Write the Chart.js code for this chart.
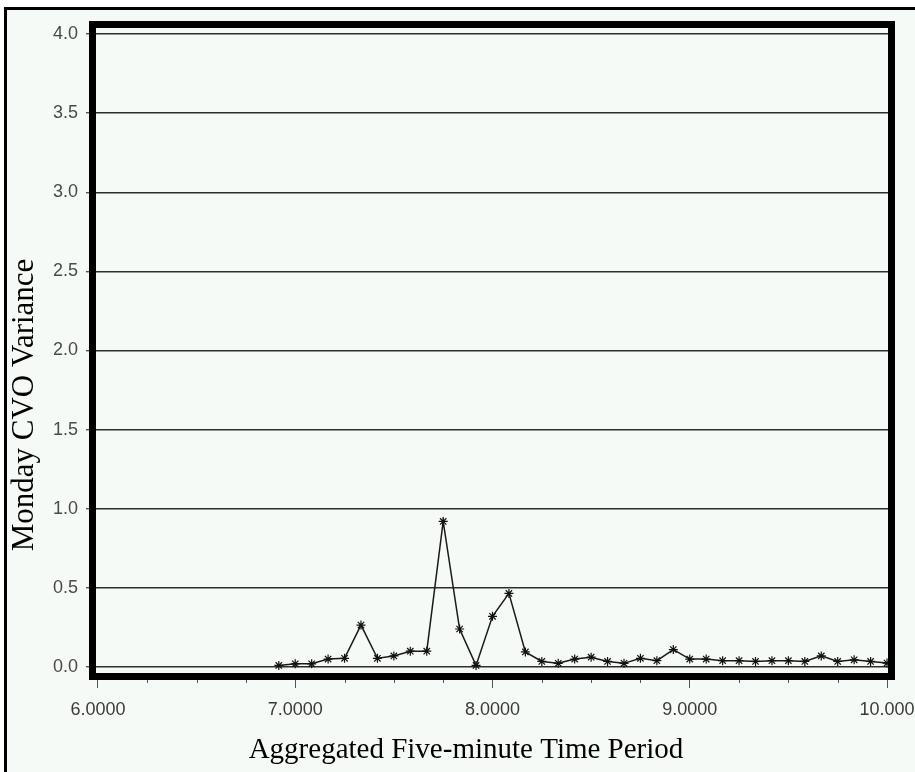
<!DOCTYPE html>
<html>
<head>
<meta charset="utf-8">
<script src="https://cdn.jsdelivr.net/npm/chart.js@4.4.0/dist/chart.umd.min.js"></script>
<style>
    html, body { margin: 0; padding: 0; background: #fff; }
    #wrap { width: 915px; height: 772px; position: relative; }
</style>
</head>
<body>
<div id="wrap"><canvas id="cvoChart"></canvas></div>
<script>
// time of day (hours), five-minute bins
const timePeriods = [
    6.9167, 7.0000, 7.0833, 7.1667, 7.2500, 7.3333, 7.4167, 7.5000, 7.5833, 7.6667,
    7.7500, 7.8333, 7.9167, 8.0000, 8.0833, 8.1667, 8.2500, 8.3333, 8.4167, 8.5000,
    8.5833, 8.6667, 8.7500, 8.8333, 8.9167, 9.0000, 9.0833, 9.1667, 9.2500, 9.3333,
    9.4167, 9.5000, 9.5833, 9.6667, 9.7500, 9.8333, 9.9167, 10.0000
];
const cvoVariance = [
    0.010, 0.020, 0.020, 0.050, 0.055, 0.265, 0.055, 0.070, 0.100, 0.100,
    0.920, 0.240, 0.010, 0.320, 0.465, 0.095, 0.035, 0.023, 0.050, 0.062,
    0.035, 0.023, 0.055, 0.040, 0.110, 0.050, 0.050, 0.040, 0.040, 0.035,
    0.040, 0.040, 0.035, 0.070, 0.035, 0.045, 0.035, 0.025
];

const yTicks = [0, 0.5, 1, 1.5, 2, 2.5, 3, 3.5, 4];
const yTickLabels = ["0.0", "0.5", "1.0", "1.5", "2.0", "2.5", "3.0", "3.5", "4.0"];
const xTicks = [6, 7, 8, 9, 10];
const xTickLabels = ["6.0000", "7.0000", "8.0000", "9.0000", "10.000"];
const xMinorTicks = [6.25, 6.5, 6.75, 7.25, 7.5, 7.75, 8.25, 8.5, 8.75, 9.25, 9.5, 9.75];

document.addEventListener("DOMContentLoaded", function () {

    const ctx = document.getElementById("cvoChart").getContext("2d");
    const tickFont = '"Liberation Sans Narrow", "Liberation Sans", sans-serif';

    // page background + the thin outer frame
    const backdrop = {
        id: "backdrop",
        beforeDraw(chart) {
            const c = chart.ctx;
            c.save();
            c.fillStyle = "#ffffff";
            c.fillRect(0, 0, chart.width, chart.height);
            c.fillStyle = "#f6faf6";
            c.fillRect(4, 7, chart.width, chart.height);
            c.fillStyle = "#000";
            c.fillRect(4, 7, chart.width, 3);
            c.fillRect(4, 7, 3, chart.height);
            c.restore();
        }
    };

    // thick plot frame, minor x ticks, axis titles
    const frame = {
        id: "frame",
        afterDraw(chart) {
            const c = chart.ctx;
            const a = chart.chartArea;
            const xs = chart.scales.x;
            c.save();

            c.strokeStyle = "#555";
            c.lineWidth = 1;
            xMinorTicks.forEach(v => {
                const px = Math.round(xs.getPixelForValue(v)) + 0.5;
                c.beginPath();
                c.moveTo(px, a.bottom);
                c.lineTo(px, a.bottom + 10);
                c.stroke();
            });

            c.strokeStyle = "#000";
            c.lineWidth = 7;
            c.strokeRect(a.left - 3.5, a.top - 3.5, a.right - a.left + 7, a.bottom - a.top + 7);

            c.fillStyle = "#000";
            c.textAlign = "center";
            c.textBaseline = "middle";
            c.font = '29px "Liberation Serif"';
            c.fillText("Aggregated Five-minute Time Period", 466, 750);

            c.font = '31px "Liberation Serif"';
            c.translate(25, 405);
            c.rotate(-Math.PI / 2);
            c.fillText("Monday CVO Variance", 0, 0);
            c.restore();
        }
    };

    new Chart(ctx, {
        type: "line",
        data: {
            datasets: [{
                label: "Monday CVO Variance",
                data: timePeriods.map((t, i) => ({ x: t, y: cvoVariance[i] })),
                borderColor: "#1a1a1a",
                borderWidth: 1.5,
                tension: 0,
                fill: false,
                pointStyle: "star",
                pointRadius: 4.5,
                pointBorderColor: "#111",
                pointBorderWidth: 1.2,
                pointBackgroundColor: "transparent"
            }]
        },
        options: {
            responsive: true,
            maintainAspectRatio: false,
            animation: false,
            devicePixelRatio: 1,

            plugins: {
                legend: { display: false },
                tooltip: { enabled: false }
            },

            layout: {
                padding: { top: 28, right: 27, left: 0, bottom: 0 }
            },

            scales: {
                x: {
                    type: "linear",
                    min: 5.99,
                    max: 10.005,
                    afterBuildTicks: s => { s.ticks = xTicks.map(v => ({ value: v })); },
                    afterFit: s => { s.height = 99; s.paddingLeft = 0; s.paddingRight = 0; },
                    border: { display: false },
                    grid: {
                        drawOnChartArea: false,
                        drawTicks: true,
                        tickLength: 15,
                        tickColor: "#555"
                    },
                    ticks: {
                        autoSkip: false,
                        maxRotation: 0,
                        padding: 11,
                        color: "#3a3a3a",
                        font: { family: tickFont, size: 18 },
                        callback: v => xTickLabels[xTicks.indexOf(v)]
                    }
                },
                y: {
                    min: -0.038,
                    max: 4.038,
                    afterBuildTicks: s => { s.ticks = yTicks.map(v => ({ value: v })); },
                    afterFit: s => { s.width = 96; s.paddingTop = 0; s.paddingBottom = 0; },
                    border: { display: false },
                    grid: {
                        color: "#2e2e2e",
                        lineWidth: 1.4,
                        drawTicks: true,
                        tickLength: 10,
                        tickColor: "#555"
                    },
                    ticks: {
                        padding: 8,
                        color: "#4a4a4a",
                        font: { family: tickFont, size: 18 },
                        callback: v => yTickLabels[yTicks.indexOf(v)]
                    }
                }
            }
        },
        plugins: [backdrop, frame]
    });

});
</script>
</body>
</html>
